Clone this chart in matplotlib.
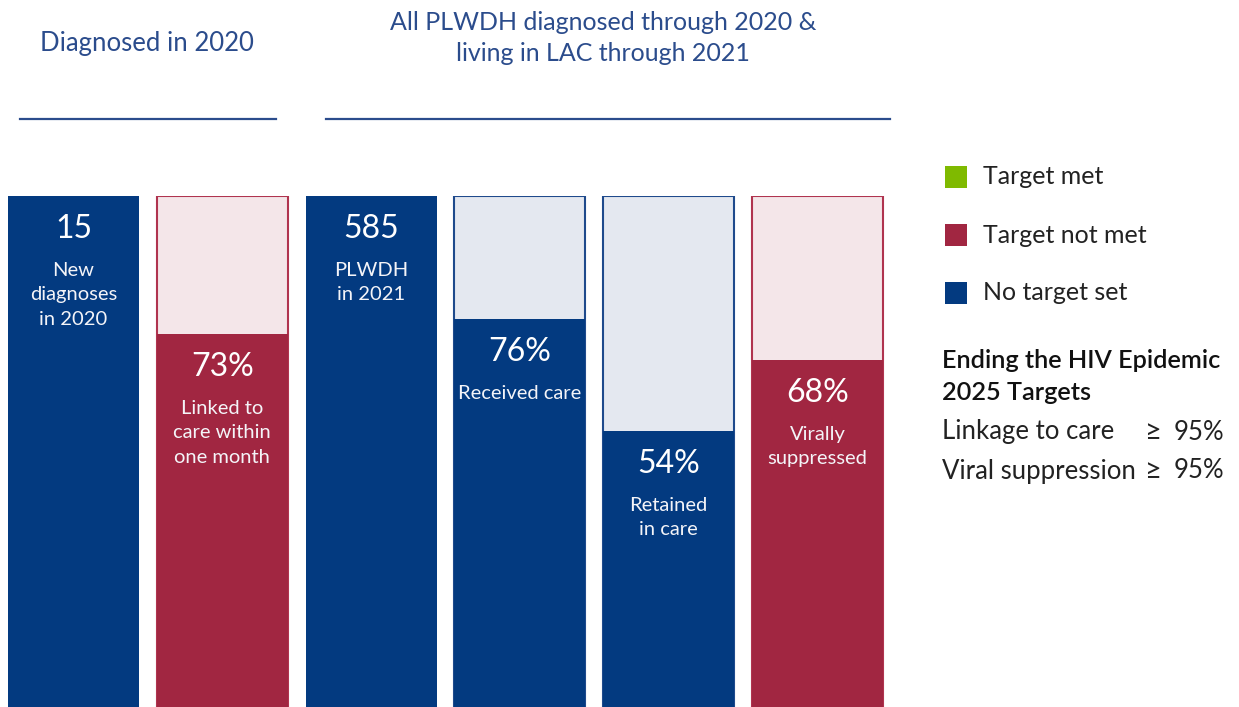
import matplotlib
matplotlib.use("Agg")
import matplotlib.pyplot as plt
from matplotlib.patches import Rectangle

plt.rcParams["font.family"] = ["Lato", "DejaVu Sans"]

# data
values = [1.0, 0.73, 1.0, 0.76, 0.54, 0.68]
big_labels = ["15", "73%", "585", "76%", "54%", "68%"]
sub_labels = [
    "New\ndiagnoses\nin 2020",
    "Linked to\ncare within\none month",
    "PLWDH\nin 2021",
    "Received care",
    "Retained\nin care",
    "Virally\nsuppressed",
]
status = ["none", "notmet", "none", "none", "none", "notmet"]
has_bg = [False, True, False, True, True, True]

BLUE = "#033A80"
RED = "#A12641"
GREEN = "#7FBA00"
LIGHT = {"none": "#E4E8F0", "notmet": "#F4E6E9"}
EDGE = {"none": "#1F4A8C", "notmet": "#B0344F"}
FILL = {"none": BLUE, "notmet": RED}
HEAD = "#2B4C8C"

W, H = 1239, 707
fig = plt.figure(figsize=(W / 100, H / 100), dpi=100)

# bar area: bottom of image up to y=196 px
ax = fig.add_axes([0, 0, 1, 511 / H])
step = 148.8
x0 = 73.5
ax.set_xlim(-x0 / step, (W - x0) / step)
ax.set_ylim(0, 1)
ax.axis("off")
bw = 131 / step

for i, v in enumerate(values):
    st = status[i]
    if has_bg[i]:
        ax.add_patch(Rectangle((i - bw / 2, 0), bw, 1.0, facecolor=LIGHT[st],
                               edgecolor=EDGE[st], linewidth=1.5, zorder=1))
    ax.bar(i, v, width=bw, color=FILL[st], zorder=2, linewidth=0)
    ax.annotate(big_labels[i], (i, v), xytext=(0, -33 * 0.72), textcoords="offset points",
                ha="center", va="center", color="white", fontsize=23, zorder=3)
    ax.annotate(sub_labels[i], (i, v), xytext=(0, -66 * 0.72), textcoords="offset points",
                ha="center", va="top", color="#F4F4F8", fontsize=14.5, linespacing=1.52,
                zorder=3)

# headers
fig.text(147 / W, 1 - 43 / H, "Diagnosed in 2020", ha="center", va="center",
         color=HEAD, fontsize=18.5)
fig.text(603 / W, 1 - 38 / H, "All PLWDH diagnosed through 2020 &\nliving in LAC through 2021",
         ha="center", va="center", color=HEAD, fontsize=18, linespacing=1.42)
fig.add_artist(plt.Line2D([20 / W, 276 / W], [1 - 119 / H] * 2, color=HEAD, lw=1.6))
fig.add_artist(plt.Line2D([326 / W, 890 / W], [1 - 119 / H] * 2, color=HEAD, lw=1.6))

# legend
legend_items = [("Target met", GREEN), ("Target not met", RED), ("No target set", BLUE)]
for k, (lab, col) in enumerate(legend_items):
    yc = 177 + 58 * k
    fig.add_artist(Rectangle((945 / W, 1 - (yc + 11) / H), 22 / W, 22 / H,
                             facecolor=col, edgecolor="none", transform=fig.transFigure))
    fig.text(983 / W, 1 - yc / H, lab, ha="left", va="center", color="#222222", fontsize=18)

fig.text(942 / W, 1 - 360 / H, "Ending the HIV Epidemic", ha="left", va="center",
         color="#111111", fontsize=18.2, fontweight="semibold")
fig.text(942 / W, 1 - 392 / H, "2025 Targets", ha="left", va="center",
         color="#111111", fontsize=18.2, fontweight="semibold")
targets = [("Linkage to care", "95%"), ("Viral suppression", "95%")]
for k, (lab, val) in enumerate(targets):
    yc = 432 + 39 * k
    fig.text(942 / W, 1 - yc / H, lab, ha="left", va="center", color="#222222", fontsize=18.5)
    fig.text(1152 / W, 1 - yc / H, "\u2265", ha="center", va="center", color="#222222", fontsize=21)
    fig.text(1224 / W, 1 - yc / H, val, ha="right", va="center", color="#222222", fontsize=18.5)

fig.savefig("out.png", dpi=100)
